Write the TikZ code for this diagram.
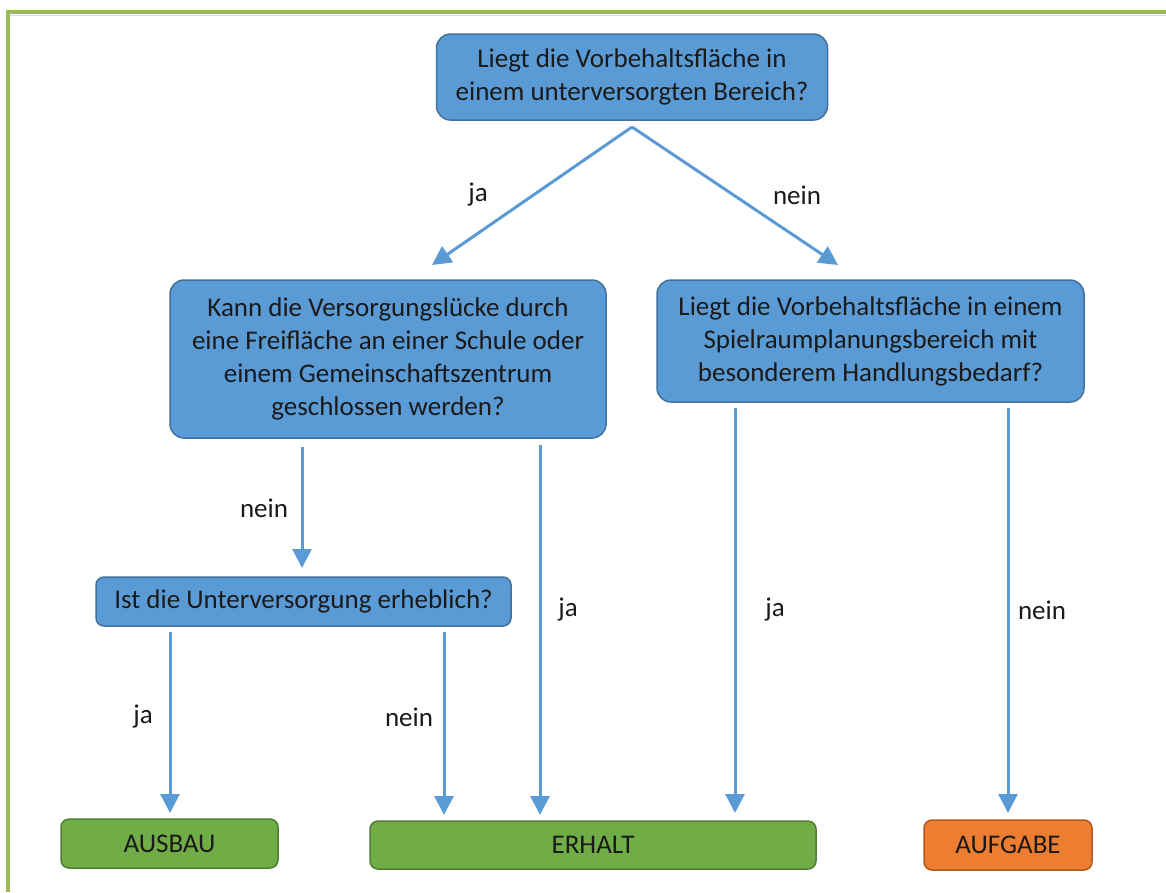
\documentclass[tikz,border=0pt]{standalone}
\usepackage{fontspec}
\setmainfont{Carlito}
\usetikzlibrary{arrows.meta}
\definecolor{boxblue}{HTML}{5B9BD5}
\definecolor{boxblueline}{HTML}{41719C}
\definecolor{arrowblue}{HTML}{5B9BD5}
\definecolor{okgreen}{HTML}{70AD47}
\definecolor{okgreenline}{HTML}{507E32}
\definecolor{endorange}{HTML}{ED7D31}
\definecolor{endorangeline}{HTML}{AE5A21}
\definecolor{framegreen}{HTML}{9BBB59}
\definecolor{framelight}{HTML}{D7E4BD}
\definecolor{txt}{HTML}{1A1A1A}
\begin{document}
\begin{tikzpicture}[x=1pt,y=-1pt,
  every node/.style={font=\fontsize{27}{33}\selectfont, text=txt},
  qbox/.style={draw=boxblueline, fill=boxblue, line width=1.5pt, rounded corners=14pt, align=center, inner sep=0pt},
  sbox/.style={draw=boxblueline, fill=boxblue, line width=1.5pt, rounded corners=8pt, align=center, inner sep=0pt},
  gbox/.style={draw=okgreenline, fill=okgreen, line width=1.5pt, rounded corners=8pt, inner sep=0pt},
  obox/.style={draw=endorangeline, fill=endorange, line width=1.5pt, rounded corners=8pt, inner sep=0pt},
  flow/.style={draw=arrowblue, line width=3pt, -{Triangle[width=19pt,length=19pt]}},
  lbl/.style={inner sep=0pt}]
\useasboundingbox (0,0) rectangle (1166,892);
% frame
\draw[framelight, line width=1.5pt] (10,15.3) -- (1166,15.3);
\draw[framegreen, line width=4pt] (8,892) -- (8,12) -- (1166,12);
% question boxes
\node[qbox, minimum width=391pt, minimum height=86pt] (q1) at (632,77)
  {Liegt die Vorbehaltsfläche in\\einem unterversorgten Bereich?};
\node[qbox, minimum width=436pt, minimum height=158pt] (q2) at (388,359)
  {Kann die Versorgungslücke durch\\eine Freifläche an einer Schule oder\\einem Gemeinschaftszentrum\\geschlossen werden?};
\node[qbox, minimum width=427pt, minimum height=122pt] (q3) at (870.5,341)
  {Liegt die Vorbehaltsfläche in einem\\Spielraumplanungsbereich mit\\besonderem Handlungsbedarf?};
\node[sbox, minimum width=415pt, minimum height=49pt] (q4) at (303.5,601.5)
  {Ist die Unterversorgung erheblich?};
% result boxes
\node[gbox, minimum width=217pt, minimum height=49pt] (r1) at (169.5,843.5) {AUSBAU};
\node[gbox, minimum width=446pt, minimum height=48pt] (r2) at (593,845) {ERHALT};
\node[obox, minimum width=168pt, minimum height=50pt] (r3) at (1008,845) {AUFGABE};
% connector end points
\coordinate (s1) at (632,127);
\coordinate (e1) at (432,265);
\coordinate (e2) at (838,265);
\coordinate (s3) at (302,447);
\coordinate (e3) at (302,568);
\coordinate (s4) at (540,445);
\coordinate (e4) at (540,815);
\coordinate (s5) at (735,408);
\coordinate (e5) at (735,813);
\coordinate (s6) at (1008,408);
\coordinate (e6) at (1008,813);
\coordinate (s7) at (170,632);
\coordinate (e7) at (170,813);
\coordinate (s8) at (444,632);
\coordinate (e8) at (444,815);
% connectors
\draw[flow] (s1) -- (e1);
\draw[flow] (s1) -- (e2);
\draw[flow] (s3) -- (e3);
\draw[flow] (s4) -- (e4);
\draw[flow] (s5) -- (e5);
\draw[flow] (s6) -- (e6);
\draw[flow] (s7) -- (e7);
\draw[flow] (s8) -- (e8);
% labels
\node[lbl] (l1) at (478,195) {ja};
\node[lbl] (l2) at (797,195) {nein};
\node[lbl] (l3) at (264,508) {nein};
\node[lbl] (l4) at (568,610) {ja};
\node[lbl] (l5) at (775,610) {ja};
\node[lbl] (l6) at (1042,610) {nein};
\node[lbl] (l7) at (143,717) {ja};
\node[lbl] (l8) at (409,717) {nein};
\end{tikzpicture}
\end{document}
